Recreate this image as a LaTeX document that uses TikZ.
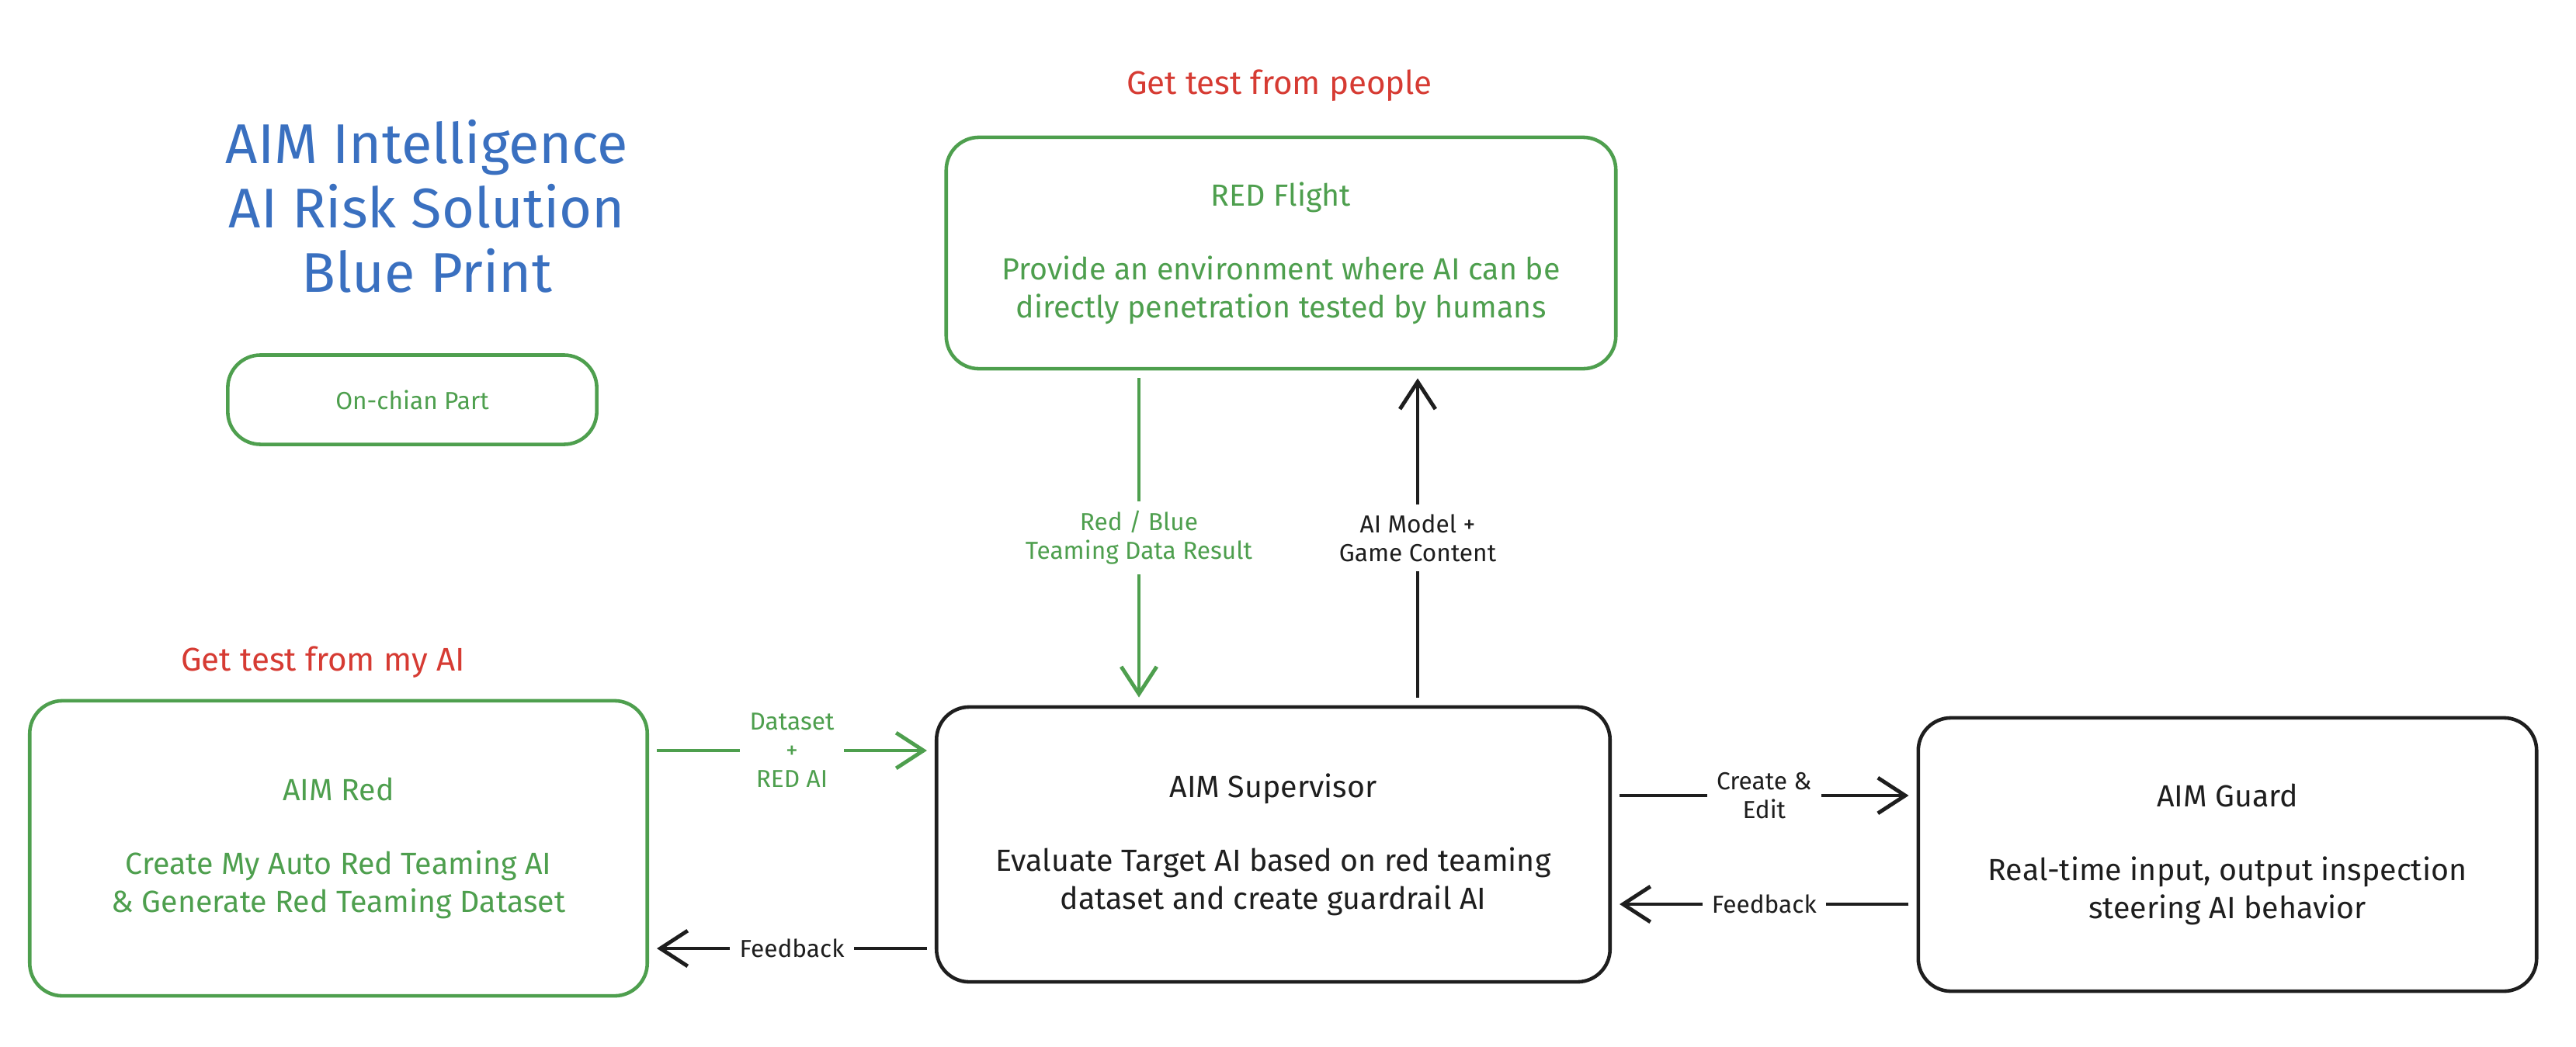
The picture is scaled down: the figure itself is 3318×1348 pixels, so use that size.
\documentclass[tikz,border=0pt]{standalone}
\usepackage{fontspec}
\setmainfont{Fira Sans}
\usepackage{xcolor}
\usetikzlibrary{positioning,calc,arrows.meta}

\definecolor{aimgreen}{HTML}{4E9F4E}
\definecolor{aimblue}{HTML}{3A70C0}
\definecolor{aimred}{HTML}{D63B33}
\definecolor{aimink}{HTML}{1E1E1E}

\tikzset{
    box/.style={draw, line width=1.3pt, rounded corners=12pt, align=center, outer sep=3.5pt,
        font=\fontsize{11.2}{14}\selectfont},
    greenbox/.style={box, draw=aimgreen, text=aimgreen},
    inkbox/.style={box, draw=aimink, text=aimink},
    flow/.style={line width=1.4pt, -{Straight Barb[length=10pt,width=13pt]}},
    lbl/.style={font=\fontsize{9}{10.5}\selectfont, align=center, fill=white, inner sep=3.5pt},
    note/.style={font=\fontsize{12}{14}\selectfont, text=aimred},
}

\begin{document}
\begin{tikzpicture}[x=0.01cm,y=-0.01cm]
    \useasboundingbox (0,0) rectangle (3318,1348);

    % title and legend
    \node[font=\fontsize{20.5}{23.6}\selectfont, text=aimblue, align=center] (title) at (550,266)
        {AIM Intelligence\\AI Risk Solution\\Blue Print};
    \node[greenbox, minimum width=4.75cm, minimum height=1.15cm, font=\fontsize{9}{11}\selectfont] (chain) at (531,515) {On-chian Part};

    % boxes
    \node[note] (peoplenote) at (1648,110) {Get test from people};
    \node[greenbox, minimum width=8.62cm, minimum height=2.98cm] (flight) at (1650,326)
        {RED Flight\\[13pt]Provide an environment where AI can be\\directly penetration tested by humans};
    \node[note] (mynote) at (416,853) {Get test from my AI};
    \node[greenbox, minimum width=7.95cm, minimum height=3.80cm] (red) at (436,1093)
        {AIM Red\\[13pt]Create My Auto Red Teaming AI\\\& Generate Red Teaming Dataset};
    \node[inkbox, minimum width=8.67cm, minimum height=3.54cm] (sup) at (1640,1088)
        {AIM Supervisor\\[13pt]Evaluate Target AI based on red teaming\\dataset and create guardrail AI};
    \node[inkbox, minimum width=7.96cm, minimum height=3.52cm] (guard) at (2869,1101)
        {AIM Guard\\[13pt]Real-time input, output inspection\\steering AI behavior};

    % lanes for the connectors
    \coordinate (lane1) at (1467,0);
    \coordinate (lane2) at (1826,0);
    \coordinate (row1) at (0,967);
    \coordinate (row2) at (0,1222);
    \coordinate (row3) at (0,1025);
    \coordinate (row4) at (0,1165);

    \draw[flow, aimgreen] (flight.south -| lane1) -- node[lbl, text=aimgreen] {Red / Blue\\Teaming Data Result} (sup.north -| lane1);
    \draw[flow, aimink] (sup.north -| lane2) -- node[lbl, text=aimink] {AI Model +\\Game Content} (flight.south -| lane2);
    \draw[flow, aimgreen] (red.east |- row1) -- node[lbl, text=aimgreen] {Dataset\\+\\RED AI} (sup.west |- row1);
    \draw[flow, aimink] (sup.west |- row2) -- node[lbl, text=aimink] {Feedback} (red.east |- row2);
    \draw[flow, aimink] (sup.east |- row3) -- node[lbl, text=aimink] {Create \&\\Edit} (guard.west |- row3);
    \draw[flow, aimink] (guard.west |- row4) -- node[lbl, text=aimink] {Feedback} (sup.east |- row4);
\end{tikzpicture}
\end{document}
